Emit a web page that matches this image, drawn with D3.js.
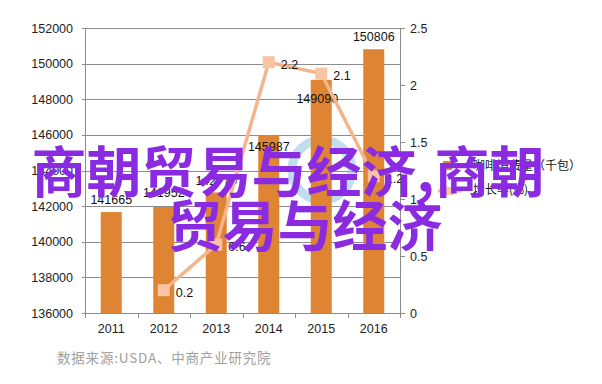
<!DOCTYPE html>
<html><head><meta charset="utf-8">
<script src="https://cdn.jsdelivr.net/npm/d3@7/dist/d3.min.js"></script>
<style>body{margin:0;background:#fff}svg{display:block}</style>
</head><body>
<script>
const years = ["2011","2012","2013","2014","2015","2016"];
const consumption = [141665, 141952, 142770, 145987, 149090, 150806];
const growth = [null, 0.2, 0.6, 2.2, 2.1, 1.2];
const leftTicks = [136000,138000,140000,142000,144000,146000,148000,150000,152000];
const rightTicks = [0,0.5,1,1.5,2,2.5];
const legendLabels = ["咖啡消费量（千包）","增长率(%)"];
const sourceText = "数据来源:USDA、中商产业研究院";
const overlayLines = ["商朝贸易与经济,商朝","贸易与经济"];
// layout-only label nudges (px)
const barLabelDy = [-13,-14,-12,11,19,-13];
const barLabelDx = [0,0,0,0,-4,0];

const W=602,H=384;
const svg=d3.select("body").append("svg").attr("width",W).attr("height",H);
const x=d3.scaleBand().domain(years).range([85,400]).paddingInner(0.6).paddingOuter(0.3);
const yL=d3.scaleLinear().domain([136000,152000]).range([313,28]);
const yR=d3.scaleLinear().domain([0,2.5]).range([313,28]);
const font="'Liberation Sans', Arial, sans-serif";
const gridC="#8c8c8c";

// gridlines
svg.append("g").selectAll("line").data(leftTicks).join("line")
 .attr("x1",82).attr("x2",400).attr("y1",d=>Math.round(yL(d))+0.5).attr("y2",d=>Math.round(yL(d))+0.5)
 .attr("stroke",gridC).attr("stroke-width",1);
svg.append("line").attr("x1",85.5).attr("x2",85.5).attr("y1",28).attr("y2",313).attr("stroke",gridC);
svg.append("line").attr("x1",400.5).attr("x2",400.5).attr("y1",28).attr("y2",318).attr("stroke",gridC);
svg.append("g").selectAll("line").data(rightTicks).join("line")
 .attr("x1",400).attr("x2",405).attr("y1",d=>Math.round(yR(d))+0.5).attr("y2",d=>Math.round(yR(d))+0.5).attr("stroke",gridC);
svg.append("g").selectAll("line").data(years.concat(["end"])).join("line")
 .attr("x1",(d,i)=>Math.round(85+x.step()*i)+0.5).attr("x2",(d,i)=>Math.round(85+x.step()*i)+0.5)
 .attr("y1",313).attr("y2",318).attr("stroke",gridC);

svg.append("g").selectAll("text").data(leftTicks).join("text")
 .attr("x",73).attr("y",d=>yL(d)).attr("dy","0.36em").attr("text-anchor","end")
 .attr("font-family",font).attr("font-size",12.5).attr("fill","#222").text(d=>d);
svg.append("g").selectAll("text").data(rightTicks).join("text")
 .attr("x",410).attr("y",d=>yR(d)).attr("dy","0.36em")
 .attr("font-family",font).attr("font-size",12.5).attr("fill","#222").text(d=>d);
svg.append("g").selectAll("text").data(years).join("text")
 .attr("x",d=>x(d)+x.bandwidth()/2).attr("y",333).attr("text-anchor","middle")
 .attr("font-family",font).attr("font-size",12.5).attr("fill","#222").text(d=>d);

// faint logo watermark
svg.append("circle").attr("cx",322).attr("cy",170).attr("r",30).attr("fill","none")
 .attr("stroke","#8ec3df").attr("stroke-width",9).attr("opacity",0.55);
svg.append("text").attr("x",290).attr("y",213).attr("font-family",font).attr("font-size",11)
 .attr("fill","#9fb6c8").attr("opacity",0.8).text("www.a");

// bars
const barC="#DF8433";
svg.append("g").selectAll("rect").data(consumption).join("rect")
 .attr("x",(d,i)=>x(years[i])).attr("width",x.bandwidth())
 .attr("y",d=>yL(d)).attr("height",d=>313-yL(d)).attr("fill",barC);
svg.append("g").selectAll("text").data(consumption).join("text")
 .attr("x",(d,i)=>x(years[i])+x.bandwidth()/2+barLabelDx[i]).attr("y",(d,i)=>yL(d)+barLabelDy[i])
 .attr("dy","0.36em").attr("text-anchor","middle")
 .attr("font-family",font).attr("font-size",12.5).attr("fill","#111").text(d=>d);

// line
const lineC="#F4B48C";
const pts=growth.map((v,i)=>({v,i})).filter(d=>d.v!=null);
const line=d3.line().x(d=>x(years[d.i])+x.bandwidth()/2).y(d=>yR(d.v));
svg.append("path").datum(pts).attr("d",line).attr("fill","none").attr("stroke",lineC).attr("stroke-width",3.5);
svg.append("g").selectAll("rect").data(pts).join("rect")
 .attr("x",d=>x(years[d.i])+x.bandwidth()/2-6).attr("y",d=>yR(d.v)-6).attr("width",12).attr("height",12)
 .attr("fill","#F8C4A4");
svg.append("g").selectAll("text").data(pts).join("text")
 .attr("x",d=>x(years[d.i])+x.bandwidth()/2+12).attr("y",d=>yR(d.v)+2).attr("dy","0.36em")
 .attr("font-family",font).attr("font-size",12.5).attr("fill","#111").text(d=>d.v);

// legend
svg.append("rect").attr("x",443).attr("y",161).attr("width",9).attr("height",9).attr("fill",barC);
svg.append("line").attr("x1",438).attr("x2",462).attr("y1",191).attr("y2",191).attr("stroke",lineC).attr("stroke-width",3);
svg.append("rect").attr("x",446).attr("y",187).attr("width",8).attr("height",8).attr("fill","#F8C4A4");
svg.append("g").selectAll("text").data(legendLabels).join("text")
 .attr("x",473).attr("y",(d,i)=>166+i*24).attr("dy","0.36em")
 .attr("font-family","'Noto Sans CJK SC', sans-serif").attr("font-size",12).attr("fill","#111").text(d=>d);

// source
svg.append("text").attr("x",57).attr("y",363).attr("font-family","'Noto Sans CJK SC', serif")
 .attr("font-size",13.5).attr("letter-spacing",0.8).attr("fill","#a0a0a0").text(sourceText);

// overlay text
svg.append("g").selectAll("text").data(overlayLines).join("text")
 .attr("x",(d,i)=>i===0?288:305).attr("y",(d,i)=>192+i*54).attr("text-anchor","middle")
 .attr("font-family","'Noto Sans CJK SC', sans-serif").attr("font-weight",700).attr("font-size",55)
 .attr("fill","#8A2BE2").text(d=>d);
</script>
</body></html>
